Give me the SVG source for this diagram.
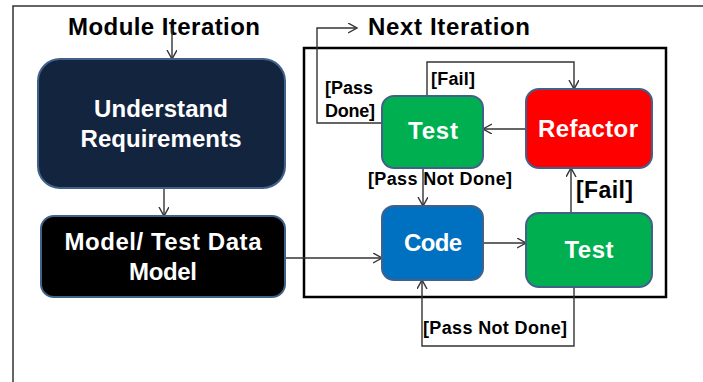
<svg xmlns="http://www.w3.org/2000/svg" width="703" height="382" viewBox="0 0 703 382">
<defs>
<marker id="arr" markerUnits="userSpaceOnUse" markerWidth="12" markerHeight="12" refX="9" refY="5" orient="auto">
<path d="M0,0 L9,5 L0,10" fill="none" stroke="#333" stroke-width="1.4"/>
</marker>
<style>
.n{stroke:#41618a;stroke-width:2}
.t{font-family:"Liberation Sans",Arial,sans-serif;font-weight:bold;fill:#fff;font-size:24px;text-anchor:middle}
.l{font-family:"Liberation Sans",Arial,sans-serif;font-weight:bold;fill:#000;font-size:18px}
.h{font-family:"Liberation Sans",Arial,sans-serif;font-weight:bold;fill:#000;font-size:24px}
.c{fill:none;stroke:#333;stroke-width:1.4}
</style>
</defs>
<rect width="703" height="382" fill="#fff"/>
<path d="M13,382 V6 H703" fill="none" stroke="#333" stroke-width="1.5"/>
<rect x="304" y="48" width="362" height="249" fill="none" stroke="#000" stroke-width="2.5"/>
<text class="h" x="68" y="35" textLength="192" lengthAdjust="spacing">Module Iteration</text>
<text class="h" x="368" y="35" textLength="162" lengthAdjust="spacing">Next Iteration</text>
<g id="connectors">
<path class="c" d="M172,28 V59" marker-end="url(#arr)"/>
<path class="c" d="M164,188 V216" marker-end="url(#arr)"/>
<path class="c" d="M285,258 H382" marker-end="url(#arr)"/>
<path class="c" d="M483,243 H526" marker-end="url(#arr)"/>
<path class="c" d="M571,213 V168" marker-end="url(#arr)"/>
<path class="c" d="M526,129 H483" marker-end="url(#arr)"/>
<path class="c" d="M427,96 V62 H574 V89" marker-end="url(#arr)"/>
<path class="c" d="M382,123 H317 V28 H357" marker-end="url(#arr)"/>
<path class="c" d="M423,168 V206" marker-end="url(#arr)"/>
<path class="c" d="M574,287 V346 H422 V280" marker-end="url(#arr)"/>
<text class="l" x="431" y="85" textLength="44" lengthAdjust="spacing">[Fail]</text>
<text class="l" x="325" y="94" textLength="48" lengthAdjust="spacing">[Pass</text>
<text class="l" x="325" y="117" textLength="50" lengthAdjust="spacing">Done]</text>
<text class="l" x="368" y="185" textLength="144" lengthAdjust="spacing">[Pass Not Done]</text>
<text class="l" x="423" y="334" textLength="144" lengthAdjust="spacing">[Pass Not Done]</text>
<text class="l" x="576" y="198" style="font-size:23px" textLength="57" lengthAdjust="spacing">[Fail]</text>
</g>
<g id="understand">
<rect class="n" x="38" y="59" width="247" height="129" rx="22" fill="#13243f"/>
<text class="t" x="161" y="117" textLength="134" lengthAdjust="spacing">Understand</text>
<text class="t" x="161" y="147" textLength="161" lengthAdjust="spacing">Requirements</text>
</g>
<g id="model">
<rect class="n" x="41" y="216" width="244" height="81" rx="13" fill="#000"/>
<text class="t" x="163" y="250" textLength="197" lengthAdjust="spacing">Model/ Test Data</text>
<text class="t" x="163" y="280" textLength="68" lengthAdjust="spacing">Model</text>
</g>
<g id="test1">
<rect class="n" x="382" y="96" width="101" height="72" rx="12" fill="#00b050"/>
<text class="t" x="433" y="139" textLength="50" lengthAdjust="spacing">Test</text>
</g>
<g id="refactor">
<rect class="n" x="526" y="89" width="126" height="79" rx="13" fill="#ff0000"/>
<text class="t" x="588" y="137" textLength="100" lengthAdjust="spacing">Refactor</text>
</g>
<g id="code">
<rect class="n" x="382" y="206" width="101" height="74" rx="12" fill="#0070c0"/>
<text class="t" x="433" y="251" textLength="58" lengthAdjust="spacing">Code</text>
</g>
<g id="test2">
<rect class="n" x="526" y="213" width="126" height="74" rx="13" fill="#00b050"/>
<text class="t" x="589" y="258" textLength="49" lengthAdjust="spacing">Test</text>
</g>
</svg>
